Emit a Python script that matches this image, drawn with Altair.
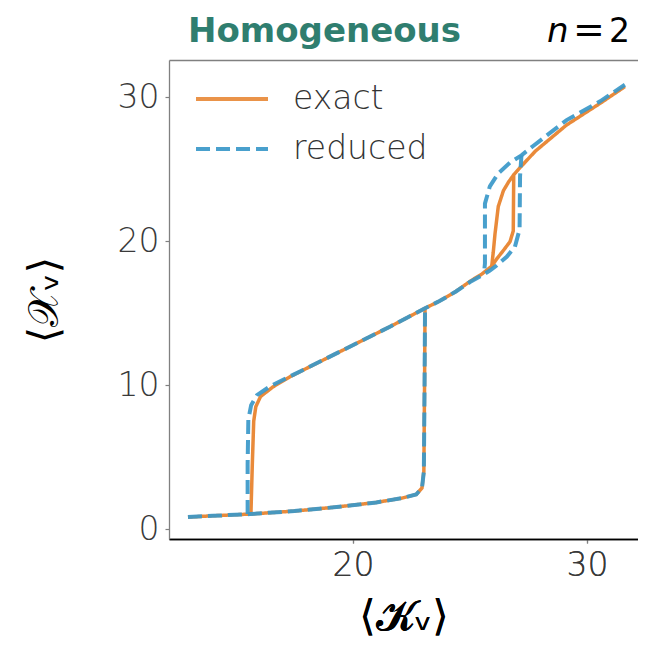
import altair as alt
import pandas as pd

# ---------------- data ----------------
series_names = ["exact", "reduced"]
series_colors = ["#E98A3A", "#3A98C9"]

# shared lower branch (with the jump up at ~23.1)
lower_x = [12.95, 14.0, 15.6, 17.5, 19.3, 21.0, 22.1, 22.7, 22.95, 23.03, 23.06, 23.08]
lower_y = [0.83, 0.92, 1.04, 1.25, 1.53, 1.85, 2.15, 2.4, 2.85, 4.0, 10.0, 15.35]

# exact: middle/upper branch (left drop, lower side of the small loop, upper branch)
exact_mid_x = [15.64, 15.70, 15.76, 15.85, 16.05, 16.59, 17.31, 18.73, 20.16, 21.58, 23.08,
               23.72, 24.4, 25.0, 25.5, 25.93, 26.14, 26.43, 26.71, 26.85, 26.87, 27.14,
               27.8, 29.13, 30.56, 31.62]
exact_mid_y = [1.04, 4.5, 7.5, 8.5, 9.2, 9.88, 10.58, 11.74, 12.9, 14.05, 15.33,
               15.85, 16.5, 17.2, 17.7, 18.25, 18.75, 19.35, 19.95, 20.7, 24.6, 25.1,
               26.25, 28.06, 29.56, 30.72]
# exact: upper-left side of the small loop
exact_loop_x = [25.93, 26.0, 26.07, 26.21, 26.43, 26.65, 26.87]
exact_loop_y = [18.25, 19.3, 20.5, 22.4, 23.5, 24.1, 24.6]

# reduced: middle branch and lower side of the small loop
reduced_mid_x = [15.50, 15.50, 15.53, 15.65, 15.9, 16.45, 17.31, 18.73, 20.16, 21.58, 23.08,
                 23.72, 24.4, 25.0, 25.5, 25.85, 26.14, 26.57, 26.92, 27.12, 27.14, 27.2]
reduced_mid_y = [1.04, 4.5, 7.6, 8.6, 9.3, 9.9, 10.6, 11.74, 12.9, 14.05, 15.33,
                 15.85, 16.5, 17.15, 17.6, 17.95, 18.3, 18.9, 19.6, 20.8, 24.5, 25.95]
# reduced: upper-left side of the loop and the upper branch
reduced_loop_x = [25.62, 25.64, 25.64, 25.85, 26.21, 26.71, 27.2, 27.7, 29.13, 30.56, 31.62]
reduced_loop_y = [18.1, 18.45, 22.6, 23.8, 24.7, 25.45, 25.95, 26.6, 28.4, 29.7, 30.85]

x_ticks = [20, 30]
y_ticks = [0, 10, 20, 30]
x_domain = [12.14, 32.18]
y_domain = [-0.69, 32.57]

title_text = "Homogeneous"
n_label = "n"
eq_label = "="
n_value = "2"
x_title = "⟨𝓚ᵥ⟩"
y_title = "⟨𝒳ᵥ⟩"

# ---------------- table ----------------
rows = []


def add(xs, ys, series, seg):
    for i, (a, b) in enumerate(zip(xs, ys)):
        rows.append({"x": a, "y": b, "series": series, "seg": seg, "order": i})


add(lower_x, lower_y, "exact", "e_low")
add(exact_mid_x, exact_mid_y, "exact", "e_mid")
add(exact_loop_x, exact_loop_y, "exact", "e_loop")
add(lower_x, lower_y, "reduced", "r_low")
add(reduced_mid_x, reduced_mid_y, "reduced", "r_mid")
add(reduced_loop_x, reduced_loop_y, "reduced", "r_loop")
df = pd.DataFrame(rows)

FONT = "DejaVu Sans"
legend = alt.Legend(
    title=None, orient="none", legendX=43, legendY=19, padding=0,
    symbolType="M-2,0L2,0", symbolSize=1296, symbolStrokeWidth=3.8,
    labelFontSize=33, labelFont=FONT, labelFontWeight=300, labelColor="#333333", labelOffset=41,
    rowPadding=13,
)

color = alt.Color("series:N", scale=alt.Scale(domain=series_names, range=series_colors), legend=legend)
dash = alt.StrokeDash("series:N", scale=alt.Scale(domain=series_names, range=[[1, 0], [14, 6]]), legend=legend)

xscale = alt.Scale(domain=x_domain, nice=False, zero=False)
yscale = alt.Scale(domain=y_domain, nice=False, zero=False)

x_bottom = alt.X("x:Q", scale=xscale, axis=alt.Axis(
    values=x_ticks, title=x_title, orient="bottom", domainColor="black", domainWidth=1.3,
    titleFontSize=42, titleFont=FONT, titleColor="black", titleFontWeight="normal", titlePadding=14))
y_left = alt.Y("y:Q", scale=yscale, axis=alt.Axis(
    values=y_ticks, title=y_title, domainColor="#808080", domainWidth=1.3,
    titleFontSize=42, titleFont=FONT, titleColor="black", titleFontWeight="normal", titlePadding=51))

base = alt.Chart(df)
exact_layer = base.transform_filter(alt.datum.series == "exact").mark_line(strokeWidth=3.5, strokeCap="butt").encode(
    x=x_bottom, y=y_left, color=color, strokeDash=dash, detail="seg:N", order="order:Q")
reduced_layer = base.transform_filter(alt.datum.series == "reduced").mark_line(
    strokeWidth=4, opacity=0.92, strokeCap="butt").encode(
    x=x_bottom, y=y_left, color=color, strokeDash=dash, detail="seg:N", order="order:Q")

# top spine (an extra x axis on top, sharing the scale)
top_axis = base.mark_point(opacity=0).encode(
    x=alt.X("x:Q", scale=xscale, axis=alt.Axis(orient="top", labels=False, ticks=False, title=None,
                                               domainColor="#808080", domainWidth=1.3)))

title_mark = alt.Chart(pd.DataFrame({"t": [title_text]})).mark_text(
    align="left", baseline="alphabetic", fontSize=34, font=FONT, fontWeight="bold", color="#2F7E6F"
).encode(text="t:N", x=alt.value(19), y=alt.value(-18))
n_mark = alt.Chart(pd.DataFrame({"t": [n_label]})).mark_text(
    align="left", baseline="alphabetic", fontSize=34, font=FONT, fontStyle="italic", color="black"
).encode(text="t:N", x=alt.value(378), y=alt.value(-18))
eq_mark = alt.Chart(pd.DataFrame({"t": [eq_label]})).mark_text(
    align="left", baseline="alphabetic", fontSize=38, font=FONT, color="black"
).encode(text="t:N", x=alt.value(404), y=alt.value(-18))
v_mark = alt.Chart(pd.DataFrame({"t": [n_value]})).mark_text(
    align="left", baseline="alphabetic", fontSize=33, font=FONT, color="black"
).encode(text="t:N", x=alt.value(440), y=alt.value(-18))

chart = alt.layer(exact_layer, reduced_layer, top_axis, title_mark, n_mark, eq_mark, v_mark).resolve_axis(
    x="independent"
).properties(
    width=469, height=479,
    autosize=alt.AutoSizeParams(type="none"),
    padding={"left": 161, "top": 52, "right": 0, "bottom": 101},
).configure_view(stroke=None).configure_axis(
    grid=False, labelFont=FONT, labelFontSize=33, labelFontWeight=300, labelColor="#3a3a3a",
    tickColor="#808080", tickSize=4, tickWidth=1.2, labelPadding=6,
)

chart.save("out.html", embed_options={"renderer": "svg", "actions": False})
